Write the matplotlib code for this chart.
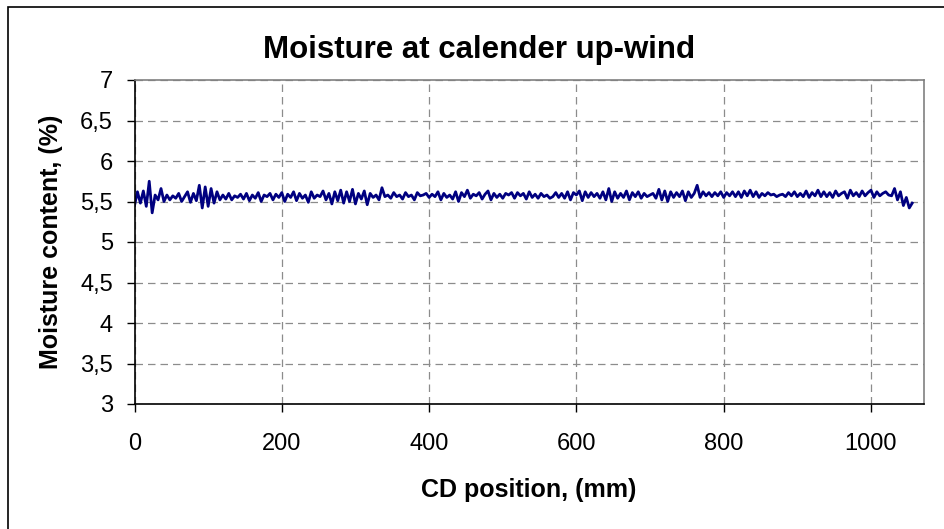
import numpy as np
import matplotlib.pyplot as plt
from matplotlib.patches import Rectangle

plt.rcParams['font.family'] = ['Liberation Sans', 'DejaVu Sans']

# moisture profile, one value every 4 mm
moisture = [
    5.45, 5.62, 5.48, 5.63, 5.44, 5.75, 5.36, 5.58, 5.52, 5.66,
    5.50, 5.58, 5.52, 5.57, 5.54, 5.60, 5.50, 5.56, 5.62, 5.49,
    5.60, 5.51, 5.70, 5.42, 5.68, 5.44, 5.66, 5.48, 5.62, 5.52,
    5.58, 5.53, 5.60, 5.52, 5.57, 5.55, 5.59, 5.53, 5.60, 5.51,
    5.58, 5.54, 5.61, 5.50, 5.58, 5.56, 5.60, 5.52, 5.59, 5.55,
    5.61, 5.50, 5.59, 5.55, 5.62, 5.51, 5.60, 5.54, 5.58, 5.49,
    5.62, 5.54, 5.58, 5.56, 5.63, 5.52, 5.60, 5.47, 5.62, 5.51,
    5.64, 5.48, 5.62, 5.50, 5.65, 5.47, 5.60, 5.53, 5.63, 5.46,
    5.60, 5.55, 5.58, 5.52, 5.67, 5.56, 5.58, 5.54, 5.61, 5.56,
    5.58, 5.53, 5.61, 5.56, 5.58, 5.52, 5.61, 5.57, 5.58, 5.60,
    5.55, 5.59, 5.56, 5.62, 5.52, 5.60, 5.55, 5.58, 5.53, 5.62,
    5.50, 5.61, 5.56, 5.64, 5.54, 5.59, 5.57, 5.61, 5.53, 5.59,
    5.63, 5.52, 5.60, 5.55, 5.59, 5.54, 5.60, 5.58, 5.61, 5.54,
    5.61, 5.57, 5.60, 5.53, 5.62, 5.55, 5.59, 5.54, 5.60, 5.56,
    5.58, 5.54, 5.56, 5.61, 5.55, 5.60, 5.54, 5.62, 5.52, 5.61,
    5.58, 5.63, 5.51, 5.62, 5.55, 5.61, 5.56, 5.60, 5.54, 5.62,
    5.52, 5.66, 5.50, 5.62, 5.54, 5.60, 5.55, 5.63, 5.52, 5.61,
    5.56, 5.62, 5.54, 5.60, 5.56, 5.58, 5.60, 5.54, 5.65, 5.52,
    5.63, 5.50, 5.62, 5.55, 5.61, 5.56, 5.63, 5.51, 5.62, 5.55,
    5.60, 5.70, 5.55, 5.62, 5.57, 5.61, 5.56, 5.61, 5.57, 5.62,
    5.55, 5.61, 5.57, 5.62, 5.56, 5.62, 5.55, 5.63, 5.57, 5.64,
    5.56, 5.62, 5.55, 5.60, 5.57, 5.61, 5.58, 5.59, 5.56, 5.58,
    5.59, 5.56, 5.61, 5.57, 5.62, 5.56, 5.60, 5.56, 5.63, 5.55,
    5.61, 5.57, 5.64, 5.56, 5.62, 5.56, 5.61, 5.55, 5.63, 5.57,
    5.60, 5.62, 5.54, 5.64, 5.57, 5.61, 5.56, 5.63, 5.57, 5.61,
    5.64, 5.55, 5.62, 5.57, 5.60, 5.62, 5.58, 5.57, 5.66, 5.52,
    5.62, 5.45, 5.55, 5.42, 5.48,
]
position = np.arange(len(moisture)) * 4

x_ticks = [0, 200, 400, 600, 800, 1000]
y_ticks = [3, 3.5, 4, 4.5, 5, 5.5, 6, 6.5, 7]
y_labels = ['3', '3,5', '4', '4,5', '5', '5,5', '6', '6,5', '7']

W, H = 944, 529
fig = plt.figure(figsize=(W / 100, H / 100), dpi=100)
ax = fig.add_axes([134.5 / W, 1 - 404 / H, (924 - 134.5) / W, (404 - 80) / H])

ax.plot(position, moisture, color='#000080', linewidth=2.0)

ax.set_xlim(0, 1072)
ax.set_ylim(3, 7)
ax.set_xticks(x_ticks)
ax.set_yticks(y_ticks)
ax.set_yticklabels(y_labels)
ax.grid(True, color='#8c8c8c', linestyle=(0, (6, 4)), linewidth=0.9)

ax.tick_params(axis='both', direction='out', length=6, width=1,
               labelsize=17, colors='black')
ax.tick_params(axis='x', pad=15)
ax.tick_params(axis='y', pad=9.5)

ax.spines['left'].set_color('black')
ax.spines['bottom'].set_color('black')
ax.spines['top'].set_color('#808080')
ax.spines['right'].set_color('#808080')
for s in ax.spines.values():
    s.set_linewidth(1.2)

fig.text(479 / W, 1 - 58 / H, 'Moisture at calender up-wind',
         fontsize=22.5, fontweight='bold', ha='center', va='baseline')
fig.text(529 / W, 1 - 497 / H, 'CD position, (mm)',
         fontsize=18, fontweight='bold', ha='center', va='baseline')
fig.text(51 / W, 1 - 242 / H, 'Moisture content, (%)',
         fontsize=18, fontweight='bold', ha='center', va='center', rotation=90)

# outer chart frame
fig.patches.append(Rectangle((8 / W, -0.5), 2, 0.5 + (1 - 7 / H), transform=fig.transFigure,
                             fill=False, edgecolor='black', linewidth=1.2))

fig.savefig('out.png', dpi=100)
